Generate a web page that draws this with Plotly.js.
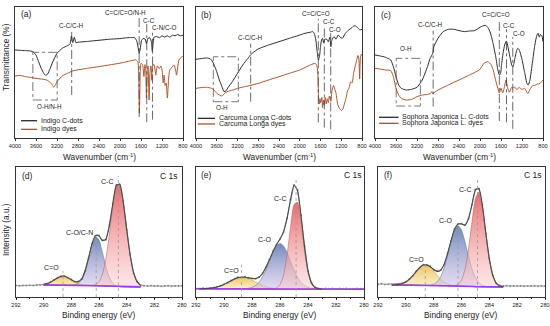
<!DOCTYPE html>
<html><head><meta charset="utf-8">
<script src="https://cdn.plot.ly/plotly-3.0.1.min.js"></script>
<style>html,body{margin:0;padding:0;background:#fff}#chart{width:550px;height:326px}</style>
</head><body><div id="chart"></div>
<script>
// ---------------- FTIR data (transmittance, arbitrary 0-100 scale) ----------------
const ftirTicks = [4000,3600,3200,2800,2400,2000,1600,1200,800];

const aDotsX = [4000,3900,3800,3700,3650,3600,3550,3500,3450,3420,3380,3330,3280,3200,3100,3000,2950,2925,2900,2870,2840,2800,2600,2400,2200,2000,1900,1800,1720,1680,1650,1635,1615,1590,1560,1520,1496,1470,1430,1400,1385,1370,1350,1300,1250,1200,1150,1100,1050,1000,950,900,850,800];
const aDotsY = [67.2,66.9,66.7,66.4,65.6,63.3,58.2,53.1,49.2,47.9,48.7,53.1,58.2,64.6,68.5,70.5,71.8,77.9,72.8,76.9,72.8,73.1,73.8,74.6,75.4,75.9,76.4,76.7,76.5,74,68,64.5,68,74.5,76,75.5,72,76,76.5,73,66,72,77,77.5,76.5,78,77,78,77,78.5,78,79,78,78.5];
const aDyeX = [4000,3900,3800,3700,3600,3500,3400,3330,3290,3260,3230,3200,3100,3000,2900,2800,2600,2400,2200,2000,1800,1700,1660,1645,1630,1615,1600,1570,1545,1525,1510,1496,1480,1465,1446,1430,1410,1394,1380,1350,1318,1290,1254,1220,1200,1177,1160,1139,1120,1097,1075,1052,1010,969,940,924,900,879,850,815,800];
const aDyeY = [47.3,47.8,46.8,46.2,45.5,45,44.3,42.5,40.5,38.7,40.5,43,47.3,49.4,51.2,52,53.3,54.5,55.8,57.1,58.9,59.7,58,50,19,50,57,56,47,56,52,30.5,52,55,29,50,55,44,55,56,48,55,53,55,52,42,48,40,42,30.5,45,52,54,55.7,52,48,54,59.5,61,62.1,62];

const bDotsX = [4000,3900,3800,3750,3700,3650,3600,3550,3500,3460,3420,3380,3300,3200,3100,3000,2950,2920,2900,2800,2600,2400,2200,2000,1900,1800,1750,1720,1690,1660,1640,1620,1600,1580,1560,1540,1520,1480,1450,1420,1400,1380,1340,1300,1260,1220,1180,1120,1060,1000,960,920,880,840,800];
const bDotsY = [60.1,60.6,61.1,60.8,59.5,55.7,50.6,44.3,39.2,35.4,36.1,38.7,43,49.4,55.7,60.8,63.4,64.5,65.2,68,71,73.5,76.1,78.6,79.9,80.7,81.2,79.9,74.8,64.6,59.5,62.1,69.7,74.8,76.1,72.8,75.4,75.4,73.5,76.9,69.7,74.8,77.4,75.4,78.6,76.9,76.1,79.9,82.4,84,85.5,85.5,84,82.5,83];
const bDyeX = [4000,3900,3800,3700,3650,3600,3550,3500,3450,3400,3300,3200,3000,2800,2600,2400,2200,2000,1800,1700,1670,1650,1640,1625,1610,1595,1575,1560,1545,1530,1510,1490,1470,1450,1430,1400,1380,1350,1330,1300,1270,1240,1200,1170,1140,1110,1080,1050,1020,990,960,930,900,880,860,845,830,810,800];
const bDyeY = [37.9,38.5,38.7,37.9,36.6,34.1,32.8,32,34,35.4,36.5,37.9,39.7,41.7,44.3,46.8,49.4,51.9,55.7,57,55,48,33,26,30,27,31,23,29,25,31,26,30,27,32,28,36,40,38,34,26,23,21,22,26,30,36,38,43,42,50,55,60,63,60,45,62,64,63];

const cDotsX = [4000,3900,3800,3700,3650,3600,3550,3500,3400,3300,3200,3100,3000,2950,2900,2880,2800,2700,2600,2500,2400,2300,2200,2100,2000,1950,1900,1850,1800,1750,1700,1660,1630,1610,1590,1560,1530,1500,1485,1460,1420,1390,1370,1340,1300,1280,1250,1200,1150,1100,1080,1050,1000,960,920,896,870,850,820,800];
const cDotsY = [63.4,62.6,61.6,59.5,54.5,46.8,40.5,37.9,36.6,37.2,38.7,44.3,54.5,60.8,64.6,69.7,76.1,81.2,83,83,82,81.2,81.7,82,84.5,85.5,86,84.5,80,72,62,52,48,49,56,65,71,74,73,68,60,55,54.5,60,67,68.5,67,60,50,41,40.5,44,58,70,78,80,77,79,78,73.5];
const cDyeX = [4000,3900,3800,3700,3650,3600,3550,3500,3400,3300,3200,3100,3000,2940,2920,2900,2800,2600,2400,2200,2100,2000,1926,1850,1790,1750,1696,1660,1632,1600,1568,1540,1504,1472,1440,1400,1376,1340,1300,1250,1200,1152,1120,1088,1050,1000,960,920,864,830,800];
const cDyeY = [53.2,52.6,51.9,51.5,46.8,37.9,32.8,30.3,29,29.5,31.6,32.8,33.3,34,35.4,34,36.6,40.5,44.3,48.1,50,52.5,57,58.3,56,52,43,38,34.3,38,34.5,38,44.3,38,35,38.5,38,39,37,38.5,37,38,36,34,37,40,40,41,41.5,43,44];

// ---------------- XPS C 1s data (intensity, arbitrary 0-100 scale) ----------------
const xpsTicks = [292,290,288,286,284,282,280];
const rawX = [292,291.75,291.5,291.25,291,290.75,290.5,290.25,290,289.75,289.5,289.25,289,288.75,288.5,288.25,288,287.75,287.5,287.25,287,286.75,286.5,286.25,286,285.75,285.5,285.25,285,284.75,284.5,284.25,284,283.75,283.5,283.25,283,282.75,282.5,282.25,282,281.75,281.5,281.25,281,280.75,280.5,280.25,280];

// (d)
const dRaw = [8.9,8.6,8.9,8.8,9.1,8.9,9.2,9.3,9.7,10.2,11.5,13.0,14.9,15.7,16.2,14.8,13.4,11.8,12.0,13.8,20.4,29.8,41.2,47.1,47.3,43.6,44.1,55.3,71.8,86.1,86.5,73.6,51.9,32.6,18.5,12.0,9.2,8.7,8.4,8.6,8.4,8.6,8.3,8.5,8.6,8.3,8.5,8.4,8.6];
const dGrid = [290,289.75,289.5,289.25,289,288.75,288.5,288.25,288,287.75,287.5,287.25,287,286.75,286.5,286.25,286,285.75,285.5,285.25,285,284.75,284.5,284.25,284,283.75,283.5,283.25,283];
const dBase = [9.2,9.2,9.2,9.2,9.1,9.1,9.1,9.0,9.0,9.0,9.0,8.9,8.9,8.9,8.8,8.7,8.6,8.5,8.4,8.3,8.2,8.1,8.0,7.9,7.9,7.8,7.8,7.8,7.8];
const dCdO = [0.4,1.1,2.2,3.9,5.6,6.8,6.9,5.9,4.2,2.5,1.3,0.5,0.2,0,0,0,0,0,0,0,0,0,0,0,0,0,0,0,0];
const dCO = [0,0,0,0,0,0,0,0,0,0.4,1.5,4.5,11.1,21.2,32.0,37.8,35.2,25.7,14.8,6.7,2.4,0.6,0.1,0,0,0,0,0,0];
const dCC = [0,0,0,0,0,0,0,0,0,0,0,0,0,0,0.2,0.9,3.2,9.1,21.2,40.0,61.5,77.1,78.7,65.4,44.3,24.5,11.0,4.0,1.2];

// (e)
const eRaw = [6.6,6.4,6.7,6.6,6.9,7.2,7.8,8.5,9.9,11.0,12.7,13.8,15.1,15.2,15.5,14.7,14.3,14.1,15.4,18.0,23.0,28.6,35.2,40.2,44.6,49.9,60.6,74.9,86.2,82.4,62.6,39.0,19.9,10.9,7.5,6.6,6.4,6.5,6.3,6.5,6.4,6.6,6.3,6.5,6.4,6.3,6.5,6.4,6.5];
const eGrid = [291.75,291.5,291.25,291,290.75,290.5,290.25,290,289.75,289.5,289.25,289,288.75,288.5,288.25,288,287.75,287.5,287.25,287,286.75,286.5,286.25,286,285.75,285.5,285.25,285,284.75,284.5,284.25,284,283.75,283.5,283.25,283];
const eBase = [6.3,6.3,6.3,6.3,6.3,6.3,6.3,6.3,6.3,6.3,6.3,6.3,6.2,6.2,6.2,6.2,6.2,6.2,6.2,6.2,6.2,6.2,6.2,6.2,6.1,6.1,6.1,6.1,6.1,6.1,6.1,6.1,6.1,6.1,6.1,6.1];
const eCdO = [0,0.1,0.2,0.4,0.8,1.4,2.3,3.4,4.8,6.2,7.6,8.6,9.0,8.8,8.0,6.8,5.4,3.9,2.7,1.7,1.0,0.6,0.3,0.1,0,0,0,0,0,0,0,0,0,0,0,0];
const eCO = [0,0,0,0,0,0,0,0,0,0,0,0,0,0.2,0.5,1.2,2.6,5.1,9.2,14.9,21.6,28.2,33.2,35.0,33.2,28.2,21.6,14.9,9.2,5.1,2.6,1.2,0.5,0.2,0.1,0];
const eCC = [0,0,0,0,0,0,0,0,0,0,0,0,0,0,0,0,0,0,0,0,0,0,0.7,3.3,10.6,25.9,47.3,64.9,66.7,51.6,29.9,13.0,4.2,1.1,0.2,0];
const eBgX = [292,280];
const eBgY = [6.3,6.0];

// (f)
const fRaw = [9.8,10.1,9.7,9.9,9.6,9.8,10.0,10.6,11.8,13.9,16.2,19.9,22.5,24.9,24.4,23.6,21.0,19.9,20.8,24.8,33.6,43.1,52.4,56.0,56.5,55.1,60.2,70.8,82.7,83.2,70.8,48.6,29.4,16.8,10.4,8.9,8.4,8.6,8.3,8.5,8.4,8.6,8.3,8.5,8.4,8.6,8.3,8.5,8.4];
const fGrid = [291,290.75,290.5,290.25,290,289.75,289.5,289.25,289,288.75,288.5,288.25,288,287.75,287.5,287.25,287,286.75,286.5,286.25,286,285.75,285.5,285.25,285,284.75,284.5,284.25,284,283.75,283.5,283.25,283];
const fBase = [9.2,9.2,9.2,9.2,9.2,9.1,9.1,9.0,9.0,8.9,8.9,8.8,8.8,8.8,8.7,8.7,8.6,8.6,8.5,8.4,8.4,8.3,8.2,8.1,8.0,8.0,7.9,7.9,7.8,7.8,7.8,7.8,7.8];
const fCdO = [0,0.2,0.5,1.2,2.4,4.5,7.3,10.7,13.7,15.7,15.8,14.2,11.3,8.0,5.0,2.8,1.4,0.6,0.2,0.1,0,0,0,0,0,0,0,0,0,0,0,0,0];
const fCO = [0,0,0,0,0,0,0,0,0,0,0,0.3,1.1,2.9,6.8,13.6,23.3,34.2,43.1,46.5,43.1,34.2,23.3,13.6,6.8,2.9,1.1,0.3,0.1,0,0,0,0];
const fCC = [0,0,0,0,0,0,0,0,0,0,0,0,0,0,0,0,0,0,0.3,1.2,4.6,12.8,28.4,49.4,67.6,72.6,61.4,40.8,21.2,8.7,2.8,0.7,0.1];

// ---------------- build ----------------
const FONT = 'Liberation Sans, Arial, Helvetica, sans-serif';
const BLACK = '#2a2a2a', BROWN = '#b0532a';
const traces = [];

function line(x, y, color, xa, ya, w) {
  traces.push({x, y, type:'scatter', mode:'lines', xaxis:xa, yaxis:ya,
    line:{color, width:w||1, shape:'spline', smoothing:0.5}, hoverinfo:'skip', showlegend:false});
}
line(aDyeX, aDyeY, BROWN, 'x', 'y'); line(aDotsX, aDotsY, BLACK, 'x', 'y');
line(bDyeX, bDyeY, BROWN, 'x2', 'y2'); line(bDotsX, bDotsY, BLACK, 'x2', 'y2');
line(cDyeX, cDyeY, BROWN, 'x3', 'y3'); line(cDotsX, cDotsY, BLACK, 'x3', 'y3');

const peakStyles = [
  {c0:'rgba(245,225,170,0.55)', c1:'rgba(240,190,70,0.9)', lc:'rgba(200,160,60,0.9)'},   // C=O yellow
  {c0:'rgba(205,190,230,0.55)', c1:'rgba(95,125,180,0.9)', lc:'rgba(90,110,150,0.9)'},   // C-O blue
  {c0:'rgba(250,205,205,0.5)',  c1:'rgba(232,85,90,0.88)', lc:'rgba(190,90,90,0.9)'}     // C-C red
];
function xps(grid, base, peaks, raw, xa, ya, bgX, bgY) {
  peaks.forEach((p, k) => {
    const top = grid.map((g, i) => base[i] + p[i]);
    const st = peakStyles[k];
    traces.push({x: grid.concat(grid.slice().reverse()), y: top.concat(base.slice().reverse()),
      type:'scatter', mode:'lines', fill:'toself', xaxis:xa, yaxis:ya,
      fillgradient:{type:'vertical', colorscale:[[0, st.c0],[1, st.c1]]},
      fillcolor: st.c1, line:{color:st.lc, width:0.6, shape:'spline', smoothing:0.6},
      hoverinfo:'skip', showlegend:false});
  });
  traces.push({x: rawX, y: raw, type:'scatter', mode:'lines+markers', xaxis:xa, yaxis:ya,
    line:{color:'#9a9a9a', width:1}, marker:{color:'#8a8a8a', size:2}, hoverinfo:'skip', showlegend:false});
  traces.push({x: bgX || grid, y: bgY || base, type:'scatter', mode:'lines', xaxis:xa, yaxis:ya,
    line:{color:'#9b3cf5', width:1.6}, hoverinfo:'skip', showlegend:false});
  const env = grid.map((g, i) => base[i] + peaks.reduce((s, p) => s + p[i], 0));
  traces.push({x: grid, y: env, type:'scatter', mode:'lines', xaxis:xa, yaxis:ya,
    line:{color:'#4a4a4a', width:1.1, shape:'spline', smoothing:0.6}, hoverinfo:'skip', showlegend:false});
}
xps(dGrid, dBase, [dCdO, dCO, dCC], dRaw, 'x4', 'y4');
xps(eGrid, eBase, [eCdO, eCO, eCC], eRaw, 'x5', 'y5', eBgX, eBgY);
xps(fGrid, fBase, [fCdO, fCO, fCC], fRaw, 'x6', 'y6');

// ---------------- axes ----------------
const yTop = [1-138/326, 1-7/326], yBot = [1-297/326, 1-167/326];
function xAx(dom, range, ticks, anchor, minor) {
  const a = {domain:dom, range, tickvals:ticks, ticks:'outside', ticklen:2.5, tickwidth:0.8, tickcolor:'#000',
    showline:true, mirror:true, linecolor:'#000', linewidth:0.8, showgrid:false, zeroline:false,
    tickfont:{size:5.6, family:FONT, color:'#222'}, anchor, fixedrange:true};
  if (minor) a.minor = {dtick:1, ticks:'outside', ticklen:1.5, tickcolor:'#000', showgrid:false};
  return a;
}
function yAx(dom, anchor) {
  return {domain:dom, range:[0,100], showticklabels:false, ticks:'', showline:true, mirror:true,
    linecolor:'#000', linewidth:0.8, showgrid:false, zeroline:false, anchor, fixedrange:true};
}

// ---------------- annotations & guide shapes ----------------
const ann = [], shapes = [];
function txt(xr, yr, x, y, t, size, xanchor) {
  ann.push({xref:xr, yref:yr, x, y, text:t, showarrow:false, xanchor:xanchor||'center', yanchor:'middle',
    font:{size:size||6.3, family:FONT, color:'#222'}});
}
function vline(xr, yr, x, y0, y1, dash, color) {
  shapes.push({type:'line', xref:xr, yref:yr, x0:x, x1:x, y0, y1, line:{color:color||'#444', width:0.8, dash:dash||'dashdot'}});
}
function box(xr, yr, x0, x1, y0, y1) {
  shapes.push({type:'rect', xref:xr, yref:yr, x0, x1, y0, y1, line:{color:'#555', width:0.8, dash:'dashdot'}});
}
function legendLine(xr, yr, x0, x1, y, color) {
  shapes.push({type:'line', xref:xr, yref:yr, x0, x1, y0:y, y1:y, line:{color, width:1.3}});
}

// (a)
txt('x','y',3790,94.5,'(a)',8.5);
txt('x','y',2927,86,'C-C/C-H'); vline('x','y',2920,32.8,81);
txt('x','y',1890,96,'C=C/C=O/N-H'); vline('x','y',1635,16,93);
txt('x','y',1452,90,'C-C'); vline('x','y',1490,12,87);
txt('x','y',1155,84,'C-N/C-O'); vline('x','y',1380,14,81);
box('x','y',3660,3197,29,65.4); txt('x','y',3349,23.7,'O-H/N-H');
legendLine('x','y',3885,3579,13.2,BLACK); legendLine('x','y',3885,3579,6.6,BROWN);
txt('x','y',3540,13.2,'Indigo C-dots',7,'left'); txt('x','y',3540,6.6,'Indigo dyes',7,'left');
// (b)
txt('x2','y2',3807,93.9,'(b)',8.5);
txt('x2','y2',2959,77,'C-C/C-H'); vline('x2','y2',2946,27.7,72);
txt('x2','y2',1686,95,'C=C/C=O'); vline('x2','y2',1642,12,91);
txt('x2','y2',1436,89,'C-C'); vline('x2','y2',1526,8,86);
txt('x2','y2',1320,82.9,'C-O'); vline('x2','y2',1403,6.6,80);
box('x2','y2',3666,3184,27.7,62); txt('x2','y2',3505,23.4,'O-H');
legendLine('x2','y2',3967,3633,15,BLACK); legendLine('x2','y2',3967,3633,10.7,BROWN);
txt('x2','y2',3600,15,'Carcuma Longa C-dots',7,'left'); txt('x2','y2',3600,10.7,'Carcuma Longa dyes',7,'left');
// (c)
txt('x3','y3',3795,93.9,'(c)',8.5);
box('x3','y3',3597,3136,24.4,60.8); txt('x3','y3',3405,68.4,'O-H');
txt('x3','y3',2944,87,'C-C/C-H'); vline('x3','y3',2892,24,82);
txt('x3','y3',1696,94.6,'C=C/C=O'); vline('x3','y3',1632,13,91);
txt('x3','y3',1456,86,'C-C'); vline('x3','y3',1495,12,83);
txt('x3','y3',1264,80,'C-O'); vline('x3','y3',1376,7,77);
legendLine('x3','y3',3923,3552,15.8,BLACK); legendLine('x3','y3',3923,3552,11.2,BROWN);
txt('x3','y3',3520,15.8,'Sophora Japonica L. C-dots',7,'left'); txt('x3','y3',3520,11.2,'Sophora Japonica L. dyes',7,'left');
// (d)
txt('x4','y4',291.2,93,'(d)',8.5); txt('x4','y4',281.0,93,'C 1s',8.5);
txt('x4','y4',285.4,89,'C-C',7); txt('x4','y4',287.4,49.5,'C-O/C-N',7); txt('x4','y4',289.4,23,'C=O',7);
vline('x4','y4',288.6,0,20,'dot','#999'); vline('x4','y4',286.2,0,46,'dot','#999'); vline('x4','y4',284.6,0,93,'dot','#999');
// (e)
txt('x5','y5',291.23,94,'(e)',8.5); txt('x5','y5',280.83,94,'C 1s',8.5);
txt('x5','y5',286.0,76,'C-C',7); txt('x5','y5',287.1,44,'C-O',7); txt('x5','y5',289.44,20.5,'C=O',7);
vline('x5','y5',288.75,0,25,'dot','#999'); vline('x5','y5',284.85,0,92,'dot','#999');
// (f)
txt('x6','y6',291.3,94,'(f)',8.5); txt('x6','y6',280.88,94,'C 1s',8.5);
txt('x6','y6',285.78,83,'C-C',7); txt('x6','y6',287.14,58.7,'C-O',7); txt('x6','y6',289.2,28.7,'C=O',7);
vline('x6','y6',288.6,0,27,'dot','#999'); vline('x6','y6',286.25,0,55,'dot','#999'); vline('x6','y6',284.85,0,91,'dot','#999');

// axis titles
function ptitle(x, y, t, angle) {
  ann.push({xref:'paper', yref:'paper', x, y, text:t, showarrow:false, xanchor:'center', yanchor:'middle',
    textangle:angle||0, font:{size:8.3, family:FONT, color:'#222'}});
}
const wn = 'Wavenumber (cm<sup>-1</sup>)', be = 'Binding energy (eV)';
ptitle(99/550, 1-157/326, wn); ptitle(279/550, 1-157/326, wn); ptitle(459/550, 1-157/326, wn);
ptitle(99/550, 1-315/326, be); ptitle(280/550, 1-315/326, be); ptitle(461/550, 1-315/326, be);
ptitle(6/550, 1-57/326, 'Transmittance (%)', -90);
ptitle(6/550, 1-230/326, 'Intensity (a.u.)', -90);

const layout = {
  width:550, height:326, margin:{l:0, r:0, t:0, b:0}, paper_bgcolor:'#fff', plot_bgcolor:'rgba(0,0,0,0)',
  showlegend:false, font:{family:FONT, color:'#222'},
  xaxis:  xAx([15/550, 183/550], [4000,800], ftirTicks, 'y'),
  xaxis2: xAx([196/550, 362/550], [4000,800], ftirTicks, 'y2'),
  xaxis3: xAx([375/550, 543/550], [4000,800], ftirTicks, 'y3'),
  xaxis4: xAx([16/550, 182/550], [292,280], xpsTicks, 'y4', true),
  xaxis5: xAx([196/550, 364/550], [292,280], xpsTicks, 'y5', true),
  xaxis6: xAx([378/550, 545/550], [292,280], xpsTicks, 'y6', true),
  yaxis:  yAx(yTop, 'x'), yaxis2: yAx(yTop, 'x2'), yaxis3: yAx(yTop, 'x3'),
  yaxis4: yAx(yBot, 'x4'), yaxis5: yAx(yBot, 'x5'), yaxis6: yAx(yBot, 'x6'),
  annotations: ann, shapes: shapes
};
Plotly.newPlot('chart', traces, layout, {displayModeBar:false, staticPlot:true});
</script></body></html>
